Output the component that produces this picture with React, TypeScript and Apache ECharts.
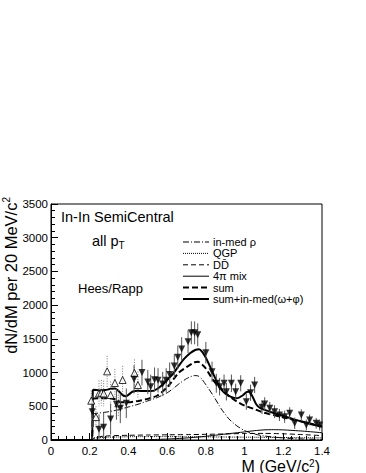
import React, { useEffect, useRef } from "react";
import * as echarts from "echarts";

// ---- data ----
const filledM = [0.213,0.248,0.272,0.308,0.338,0.358,0.389,0.429,0.470,0.500,0.515,0.535,0.553,0.577,0.595,0.613,0.637,0.655,0.675,0.708,0.725,0.742,0.758,0.800,0.832,0.854,0.871,0.894,0.906,0.932,0.954,0.980,1.009,1.031,1.052,1.090,1.104,1.130,1.155,1.180,1.207,1.233,1.259,1.293,1.319,1.336,1.370,1.388];
const filledY = [420,160,190,310,530,470,545,900,1000,860,790,895,885,830,885,970,1097,1226,1350,1458,1590,1590,1560,1295,1013,841,790,841,716,841,716,841,568,701,816,485,534,470,420,371,346,396,248,371,222,297,248,222];
const filledErr = [240,220,220,230,230,220,220,210,190,180,180,180,180,180,180,180,175,175,175,170,170,170,170,160,150,140,130,130,130,130,120,120,120,120,120,100,100,95,95,90,90,90,85,85,80,80,80,80];

const openM = [0.208,0.232,0.248,0.260,0.272,0.290,0.308,0.330,0.348,0.370,0.431,0.449];
const openY = [583,340,690,700,690,1018,667,845,544,890,995,816];
const openErr = [150,160,190,190,190,230,200,210,200,210,200,200];

const sumMedM = [0,0.211,0.216,0.22,0.25,0.28,0.31,0.33,0.35,0.37,0.385,0.40,0.42,0.45,0.48,0.52,0.55,0.58,0.60,0.63,0.66,0.69,0.72,0.745,0.765,0.78,0.80,0.82,0.84,0.86,0.88,0.90,0.93,0.96,0.99,1.01,1.025,1.04,1.06,1.08,1.10,1.15,1.20,1.25,1.30,1.35,1.40];
const sumMedY = [0,0,730,745,735,740,760,765,725,665,650,670,715,730,725,725,760,830,890,980,1100,1210,1290,1335,1345,1310,1220,1100,970,850,750,690,640,620,660,710,720,650,530,475,450,400,355,310,270,230,195];

const sumM = [0,0.211,0.216,0.22,0.25,0.30,0.33,0.36,0.40,0.45,0.50,0.55,0.60,0.63,0.66,0.70,0.74,0.76,0.78,0.80,0.84,0.88,0.92,0.96,1.00,1.05,1.10,1.15,1.20,1.30,1.40];
const sumY = [0,0,600,615,620,620,605,560,560,580,610,660,780,890,1000,1080,1150,1160,1120,1060,880,760,650,570,510,460,405,370,335,270,205];

const rhoM = [0,0.211,0.216,0.25,0.30,0.35,0.40,0.45,0.50,0.55,0.60,0.63,0.66,0.70,0.74,0.76,0.78,0.80,0.84,0.88,0.92,0.96,1.00,1.05,1.10,1.20,1.30,1.40];
const rhoY = [0,0,380,400,420,450,490,530,580,630,700,760,830,910,955,950,900,820,650,460,310,210,140,90,60,30,15,8];

const qgpM = [0,0.211,0.22,0.25,0.3,0.4,0.5,0.6,0.7,0.8,0.9,1.0,1.1,1.2,1.3,1.4];
const qgpY = [0,0,25,35,42,48,50,50,48,46,44,42,40,37,34,31];

const ddM = [0,0.211,0.22,0.25,0.3,0.4,0.5,0.6,0.7,0.8,0.9,1.0,1.1,1.2,1.3,1.4];
const ddY = [0,0,30,50,62,70,74,77,80,84,90,96,98,92,80,65];

const mixM = [0,0.4,0.5,0.6,0.7,0.8,0.9,1.0,1.05,1.1,1.15,1.2,1.3,1.4];
const mixY = [0,0,5,14,30,55,88,120,138,150,153,150,132,108];

const legendLabels = ["in-med \u03c1", "QGP", "DD\u0304", "4\u03c0 mix", "sum", "sum+in-med(\u03c9+\u03c6)"];

const FONT = "Liberation Sans, Arial, Helvetica, sans-serif";

const zip = (a: number[], b: number[]) => a.map((v, i) => [v, b[i]]);
const zip3 = (a: number[], b: number[], c: number[]) => a.map((v, i) => [v, b[i], c[i]]);

export default function App() {
  const ref = useRef<HTMLDivElement>(null);
  useEffect(() => {
    if (!ref.current) return;
    const chart = echarts.init(ref.current, null, { renderer: "svg" });

    const lineSeries = (data: number[][], width: number, type: any, z = 3) => ({
      type: "line",
      data,
      showSymbol: false,
      symbol: "none",
      smooth: 0.2,
      clip: true,
      z,
      lineStyle: { color: "#000", width, type },
      silent: true,
    });

    const errSeries = (data: number[][], color: string, dash: any) => ({
      type: "custom",
      clip: true,
      z: 4,
      silent: true,
      data,
      renderItem: (params: any, api: any) => {
        const x = api.value(0), y = api.value(1), e = api.value(2);
        const a = api.coord([x, y + e]);
        const b = api.coord([x, Math.max(0, y - e)]);
        return {
          type: "line",
          shape: { x1: a[0], y1: a[1], x2: b[0], y2: b[1] },
          style: { stroke: color, lineWidth: 1, lineDash: dash },
        };
      },
    });

    const legendRowsY = [242, 253.4, 264.8, 276.2, 287.6, 299];
    const legendStyles: any[] = [
      { w: 1, dash: [6, 2, 1, 2] },
      { w: 1, dash: [1, 1] },
      { w: 1, dash: [5, 3] },
      { w: 1, dash: null },
      { w: 2, dash: [6, 3] },
      { w: 2, dash: null },
    ];
    const legendGraphics: any[] = [];
    legendLabels.forEach((lab, i) => {
      legendGraphics.push({
        type: "line",
        shape: { x1: 183, y1: legendRowsY[i], x2: 209, y2: legendRowsY[i] },
        style: { stroke: "#000", lineWidth: legendStyles[i].w, lineDash: legendStyles[i].dash },
      });
      legendGraphics.push({
        type: "text",
        x: 213,
        y: legendRowsY[i],
        style: { text: lab, fontSize: 11, lineHeight: 11, fontFamily: FONT, fill: "#000", verticalAlign: "middle", align: "left" },
      });
    });

    const option: any = {
      animation: false,
      grid: { left: 51, top: 204, width: 271, height: 236, show: true, borderColor: "#000", borderWidth: 1, backgroundColor: "transparent" },
      xAxis: {
        type: "value",
        min: 0,
        max: 1.4,
        interval: 0.2,
        axisLine: { show: true, onZero: false, lineStyle: { color: "#000", width: 1 } },
        axisTick: { show: true, inside: true, length: 7, lineStyle: { color: "#000" } },
        minorTick: { show: true, splitNumber: 5, length: 4, lineStyle: { color: "#000" } },
        splitLine: { show: false },
        axisLabel: {
          color: "#000", fontSize: 11.5, fontFamily: FONT, margin: 5, lineHeight: 12,
          formatter: (v: number) => String(Math.round(v * 10) / 10),
        },
      },
      yAxis: {
        type: "value",
        min: 0,
        max: 3500,
        interval: 500,
        axisLine: { show: true, onZero: false, lineStyle: { color: "#000", width: 1 } },
        axisTick: { show: true, inside: true, length: 7, lineStyle: { color: "#000" } },
        minorTick: { show: true, splitNumber: 5, length: 4, lineStyle: { color: "#000" } },
        splitLine: { show: false },
        axisLabel: {
          color: "#000", fontSize: 11.5, fontFamily: FONT, margin: 3,
          formatter: (v: number) => String(Math.round(v)),
        },
      },
      series: [
        lineSeries(zip(qgpM, qgpY), 1, [1, 1]),
        lineSeries(zip(ddM, ddY), 1, [5, 3]),
        lineSeries(zip(mixM, mixY), 1, "solid"),
        lineSeries(zip(rhoM, rhoY), 1, [6, 2, 1, 2]),
        lineSeries(zip(sumM, sumY), 2, [6, 3]),
        lineSeries(zip(sumMedM, sumMedY), 2, "solid"),
        errSeries(zip3(openM, openY, openErr), "#777", [1, 1.5]),
        errSeries(zip3(filledM, filledY, filledErr), "#555", null),
        {
          type: "scatter",
          data: zip(openM, openY),
          symbol: "triangle",
          symbolSize: 7,
          z: 5,
          itemStyle: { color: "#fff", borderColor: "#000", borderWidth: 1 },
          silent: true,
        },
        {
          type: "scatter",
          data: zip(filledM, filledY),
          symbol: "triangle",
          symbolRotate: 180,
          symbolSize: 7,
          z: 5,
          itemStyle: { color: "#000" },
          silent: true,
        },
      ],
      graphic: [
        {
          type: "text",
          x: 61,
          y: 224,
          style: { text: "In-In SemiCentral", fontSize: 14.5, fontFamily: FONT, fill: "#000", verticalAlign: "bottom" },
        },
        {
          type: "text",
          x: 92,
          y: 241,
          style: {
            text: "{a|all p}{t|T}",
            fontFamily: FONT,
            verticalAlign: "middle",
            rich: {
              a: { fontSize: 14.5, fontFamily: FONT, fill: "#000", lineHeight: 18 },
              t: { fontSize: 10, fontFamily: FONT, fill: "#000", lineHeight: 8, verticalAlign: "bottom" },
            },
          },
        },
        {
          type: "text",
          x: 78,
          y: 288,
          style: { text: "Hees/Rapp", fontSize: 13, fontFamily: FONT, fill: "#000", verticalAlign: "middle" },
        },
        ...legendGraphics,
        {
          type: "text",
          x: 11,
          y: 197,
          rotation: Math.PI / 2,
          style: {
            text: "{a|dN/dM per 20 MeV/c}{s|2}",
            align: "right",
            verticalAlign: "middle",
            rich: {
              a: { fontSize: 16.5, fontFamily: FONT, fill: "#000", lineHeight: 20 },
              s: { fontSize: 10, fontFamily: FONT, fill: "#000", lineHeight: 11, verticalAlign: "top" },
            },
          },
        },
        {
          type: "text",
          x: 320,
          y: 466,
          style: {
            text: "{a|M (GeV/c}{s|2}{a|)}",
            align: "right",
            verticalAlign: "middle",
            rich: {
              a: { fontSize: 16, fontFamily: FONT, fill: "#000", lineHeight: 15 },
              s: { fontSize: 10, fontFamily: FONT, fill: "#000", lineHeight: 9, verticalAlign: "top" },
            },
          },
        },
      ],
    };
    chart.setOption(option);
    return () => chart.dispose();
  }, []);

  return <div ref={ref} style={{ position: "fixed", left: 0, top: 0, width: 366, height: 473, background: "#fff" }} />;
}
